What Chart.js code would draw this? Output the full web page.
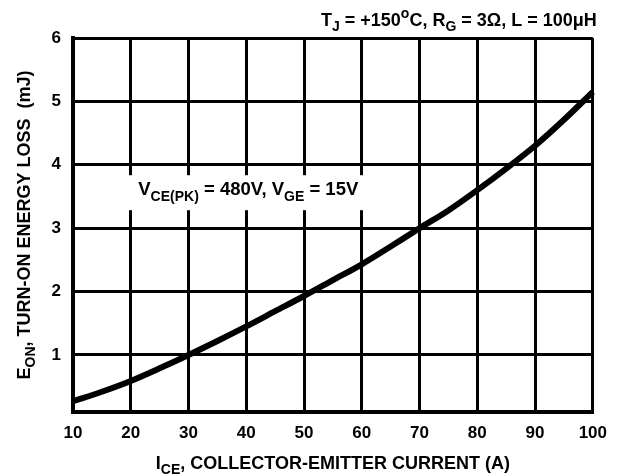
<!DOCTYPE html>
<html>
<head>
<meta charset="utf-8">
<script src="https://cdn.jsdelivr.net/npm/chart.js@4"></script>
<style>
  html, body { margin: 0; padding: 0; background: #fff; }
  #wrap { width: 618px; height: 476px; position: relative; }
</style>
</head>
<body>
<div id="wrap"><canvas id="chart"></canvas></div>
<script>
// collector-emitter current (A)
const currents = [10, 15, 20, 25, 30, 35, 40, 45, 50, 55, 60, 65, 70, 75, 80, 85, 90, 95, 100]
// turn-on energy loss (mJ)
const energyLoss = [0.27, 0.42, 0.59, 0.79, 1.0, 1.22, 1.45, 1.69, 1.93, 2.18, 2.43, 2.71, 3.0, 3.28, 3.6, 3.94, 4.3, 4.71, 5.15]
const xTicks = [10, 20, 30, 40, 50, 60, 70, 80, 90, 100]
const yTicks = [1, 2, 3, 4, 5, 6]

const FONT = "'Liberation Sans', Arial, sans-serif"

// draws text with subscript / superscript pieces: [text, mode] with mode "sub" | "sup" | undefined
function drawRich(ctx, parts, x, y, size, align) {
  const big = `bold ${size}px ${FONT}`
  const small = `bold ${Math.round(size * 0.78)}px ${FONT}`
  let total = 0
  const widths = parts.map(([t, m]) => {
    ctx.font = m ? small : big
    const w = ctx.measureText(t).width
    total += w
    return w
  })
  let cx = align === "right" ? x - total : align === "center" ? x - total / 2 : x
  ctx.textBaseline = "alphabetic"
  ctx.textAlign = "left"
  parts.forEach(([t, m], i) => {
    ctx.font = m ? small : big
    let dy = 0
    if (m === "sub") dy = size * 0.3
    if (m === "sup") dy = -size * 0.42
    ctx.fillText(t, cx, y + dy)
    cx += widths[i]
  })
  return total
}

const labels = {
  id: "labels",
  afterDraw(chart) {
    const ctx = chart.ctx
    const a = chart.chartArea
    ctx.save()
    ctx.fillStyle = "#000"

    // test conditions, top right
    drawRich(ctx, [["T"], ["J", "sub"], [" = +150"], ["o", "sup"], ["C, R"], ["G", "sub"], [" = 3\u03A9, L = 100\u03BCH"]],
      a.right + 4, 26, 18, "right")

    // boxed note in the plot
    const px = chart.scales.x.getPixelForValue(21.3)
    const py = chart.scales.y.getPixelForValue(3.52)
    ctx.fillStyle = "#fff"
    ctx.fillRect(px - 13, py - 20, 252, 35)
    ctx.fillStyle = "#000"
    drawRich(ctx, [["V"], ["CE(PK)", "sub"], [" = 480V, V"], ["GE", "sub"], [" = 15V"]], px, py, 18.5, "left")

    // x axis title
    drawRich(ctx, [["I"], ["CE", "sub"], [", COLLECTOR-EMITTER CURRENT (A)"]], (a.left + a.right) / 2, 469, 18, "center")

    // y axis title, rotated
    ctx.translate(30, (a.top + a.bottom) / 2)
    ctx.rotate(-Math.PI / 2)
    drawRich(ctx, [["E"], ["ON", "sub"], [", TURN-ON ENERGY LOSS  (mJ)"]], 0, 0, 18, "center")
    ctx.restore()
  }
}

new Chart(document.getElementById("chart"), {
  type: "line",
  data: {
    datasets: [{
      data: currents.map((c, i) => ({ x: c, y: energyLoss[i] })),
      borderColor: "#000",
      borderWidth: 6,
      pointRadius: 0,
      cubicInterpolationMode: "monotone",
      fill: false,
      clip: false
    }]
  },
  options: {
    responsive: true,
    maintainAspectRatio: false,
    animation: false,
    layout: { padding: { top: 38, right: 19, left: 0, bottom: 0 } },
    plugins: {
      legend: { display: false },
      tooltip: { enabled: false }
    },
    scales: {
      x: {
        type: "linear",
        min: 10,
        max: 100,
        afterBuildTicks: s => { s.ticks = xTicks.map(v => ({ value: v })) },
        afterFit: s => { s.height = 64 },
        grid: { color: "#000", lineWidth: 3, drawTicks: false },
        border: { color: "#000", width: 4 },
        ticks: { color: "#000", padding: 11, font: { family: FONT, size: 17, weight: "bold" } }
      },
      y: {
        min: 0.1,
        max: 6,
        afterBuildTicks: s => { s.ticks = yTicks.map(v => ({ value: v })) },
        afterFit: s => { s.width = 73 },
        grid: { color: "#000", lineWidth: 3, drawTicks: false },
        border: { color: "#000", width: 4 },
        ticks: { color: "#000", padding: 12, font: { family: FONT, size: 17, weight: "bold" } }
      }
    }
  },
  plugins: [labels]
})
</script>
</body>
</html>
